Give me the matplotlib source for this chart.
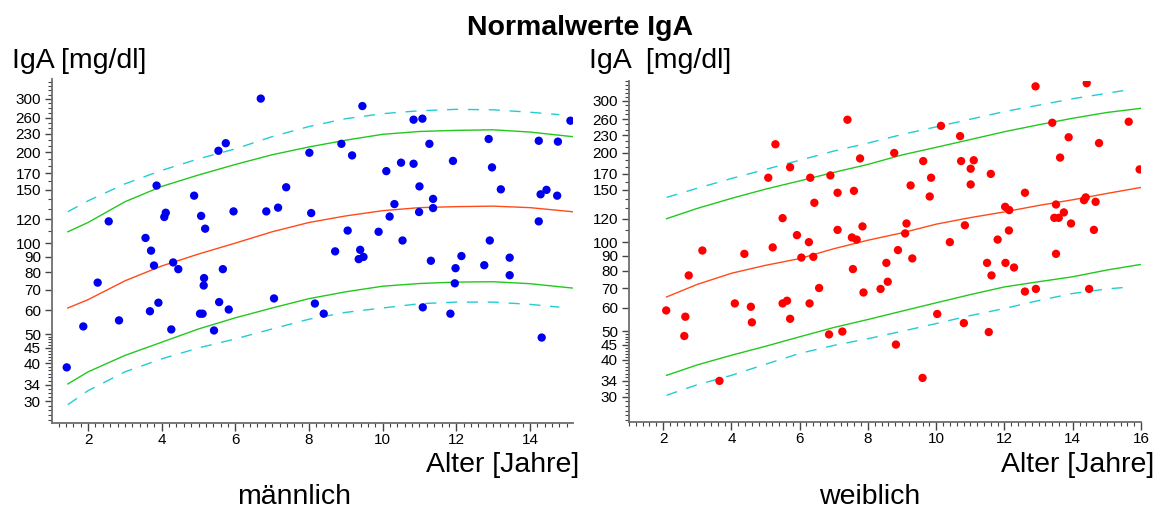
import matplotlib
matplotlib.use("Agg")
import matplotlib.pyplot as plt
from matplotlib.ticker import FixedLocator, NullFormatter, FixedFormatter

plt.rcParams['font.family'] = ['Liberation Sans', 'DejaVu Sans']

# ---------------- data ----------------
title = "Normalwerte IgA"
ylabel = "IgA [mg/dl]"
ylabel_r = "IgA  [mg/dl]"
xlabel = "Alter [Jahre]"
panel_names = ["männlich", "weiblich"]

y_ticks = [30, 34, 40, 45, 50, 60, 70, 80, 90, 100, 120, 150, 170, 200, 230, 260, 300]

# male scatter (age, IgA)
m_age = [1.42, 1.87, 2.26, 2.56, 2.84, 3.56, 3.71, 3.79, 3.68, 3.86, 3.91, 4.11, 4.07, 4.26,
         4.31, 4.45, 4.88, 5.07, 5.18, 5.15, 5.14, 5.04, 5.11, 5.42, 5.54, 5.74, 5.56, 5.66,
         5.82, 5.95, 6.69, 6.84, 7.05, 7.16, 7.38, 8.01, 8.06, 8.16, 8.40, 8.71, 8.88, 9.05,
         9.17, 9.39, 9.35, 9.48, 9.45, 9.89, 10.1, 10.19, 10.32, 10.5, 10.54, 10.84, 10.84,
         11.08, 11.0, 10.99, 11.09, 11.27, 11.37, 11.37, 11.31, 11.84, 11.91, 11.98, 11.96,
         12.14, 12.76, 12.88, 12.91, 12.97, 13.21, 13.45, 13.45, 14.24, 14.24, 14.29, 14.45,
         14.32, 14.74, 14.76, 15.1]
m_iga = [38.8, 53, 74, 118, 55.5, 104, 94.4, 84.3, 59.5, 155, 63.5, 126, 122, 51.8,
         86.3, 82, 143.5, 123, 111.6, 76.6, 72.4, 58.4, 58.4, 51.4, 202, 214, 63.8, 82,
         60.3, 127.3, 300.6, 127.3, 65.6, 131, 153, 199, 125.7, 63.1, 58.4, 93.9, 213, 110,
         195, 95, 88.5, 90, 284, 109, 173, 122.4, 134.6, 184.5, 102, 183, 256,
         258, 154, 126.7, 61.3, 213, 140, 130.6, 87.4, 58.4, 187, 82.6, 73.6,
         90.6, 84.5, 221, 102, 178, 150.6, 89.5, 78.3, 218, 118, 145, 150,
         48.7, 143.5, 216.6, 254]

# female scatter (age, IgA)
f_age = [2.09, 2.65, 2.62, 2.75, 3.15, 3.65, 4.10, 4.38, 4.57, 4.60, 5.08, 5.29, 5.21, 5.50,
         5.50, 5.63, 5.72, 5.72, 5.92, 6.05, 6.27, 6.31, 6.40, 6.43, 6.29, 6.57, 6.90, 6.86,
         7.11, 7.11, 7.25, 7.40, 7.53, 7.67, 7.59, 7.56, 7.77, 7.84, 7.87, 8.37, 8.54, 8.58,
         8.77, 8.88, 8.82, 9.09, 9.13, 9.25, 9.30, 9.62, 9.60, 9.81, 9.85, 10.03, 10.14, 10.40,
         10.70, 10.73, 10.84, 10.81, 11.01, 11.01, 11.10, 11.60, 11.49, 11.62, 11.54, 11.80,
         12.02, 12.14, 12.13, 12.03, 12.28, 12.60, 12.60, 12.91, 12.92, 13.40, 13.51, 13.46,
         13.59, 13.51, 13.63, 13.74, 13.88, 13.95, 14.33, 14.38, 14.41, 14.48, 14.62, 14.67,
         14.77, 15.64, 15.96]
f_iga = [58.8, 56, 48.2, 77.2, 93.7, 34, 62.1, 91.3, 60.5, 53.6, 165, 214, 96, 120.5,
         62.1, 63.4, 179, 55.1, 105.6, 88.7, 100, 165, 89.2, 135.8, 62.1, 70, 168, 48.8,
         146.8, 110, 49.9, 259, 103.7, 102, 149, 81.1, 191.7, 113, 67.6, 69.5, 85.1, 73.5,
         200, 94, 45.1, 107, 115.6, 155.4, 88.1, 187.8, 34.8, 142.6, 165, 57.2, 247, 100,
         228, 187.8, 114, 53.3, 177, 156.6, 189, 170, 85.1, 77.2, 49.7, 102,
         131.6, 128.3, 109.5, 85.1, 82.1, 146.8, 68.1, 335.7, 69.5, 253, 134, 120.8,
         120.8, 91.3, 193, 126, 226, 115.6, 138.6, 141.6, 344, 69.5, 110, 136.8,
         216, 255, 176]

# male percentile curves
m_cx = [1.45, 2, 3, 4, 5, 6, 7, 8, 9, 10, 11, 12, 13, 14, 15.15]
m_p50 = [61, 65, 75, 84, 92, 100, 109, 117, 123, 128, 131, 132, 132.5, 131, 127]
m_hi = [109, 117, 137, 154, 168, 182, 196, 208, 219, 229, 234, 236, 237, 233, 225]
m_lo = [34.2, 37.5, 42.5, 47, 52, 56.6, 61, 65.5, 69, 72, 73.5, 74.3, 74.5, 73.4, 71]
m_dx = [1.45, 2, 3, 4, 5, 6, 7, 8, 9, 10, 11, 12, 13, 14, 14.8]
m_dhi = [127, 138, 157, 174, 190, 205, 225, 243, 258, 268, 274, 277, 276, 271, 266]
m_dlo = [29.2, 32.5, 37.5, 41.4, 45, 48.2, 52, 56, 59, 61, 63, 63.8, 63.8, 62.7, 61.4]

# female percentile curves
f_cx = [2.1, 3, 4, 5, 6, 7, 8, 9, 10, 11, 12, 13, 14, 15, 16]
f_p50 = [65.3, 72, 78.5, 83.5, 88, 95, 101.5, 107.5, 115, 121, 126.5, 133, 139, 146, 153]
f_hi = [120, 130, 140.5, 151, 161, 172, 183, 197, 209, 222, 236, 249, 262, 274, 283]
f_lo = [35.5, 38.5, 41.5, 44.5, 47.9, 51.5, 54.8, 58.5, 62.4, 66.5, 70.6, 73.5, 76.4, 80.5, 84.1]
f_dx = [2.1, 3, 4, 5, 6, 7, 8, 9, 10, 11, 12, 13, 14, 15, 15.7]
f_dhi = [141.6, 152, 164, 176, 189, 203, 216, 231, 245, 260, 276, 290, 305, 318, 328]
f_dlo = [30.4, 33, 35.5, 38.7, 42.1, 44.8, 47.2, 50, 53.1, 56.5, 59.7, 63.5, 67.1, 69.5, 70.6]

# ---------------- figure ----------------
W, H = 1161, 512
fig = plt.figure(figsize=(W / 100, H / 100), dpi=100)

def fx(px):
    return px / W

def fy(py):
    return 1 - py / H

ax_l = fig.add_axes([fx(52), fy(423), fx(573) - fx(52), fy(79) - fy(423)])
ax_r = fig.add_axes([fx(629), fy(422), fx(1141) - fx(629), fy(81) - fy(422)])

minor_y = ([v for v in range(25, 51)] +
           [v for v in range(110, 351, 10)])
minor_y = [v for v in minor_y if v not in y_ticks]

spine_col = "#6e6e6e"
c_med = "#ff4a1a"
c_green = "#22c81e"
c_cyan = "#22cdd2"

def style(ax, xlim, ylim, xmax_tick):
    ax.set_yscale('log')
    ax.set_xlim(*xlim)
    ax.set_ylim(*ylim)
    ax.yaxis.set_major_locator(FixedLocator(y_ticks))
    ax.yaxis.set_major_formatter(FixedFormatter([str(v) for v in y_ticks]))
    ax.yaxis.set_minor_locator(FixedLocator(minor_y))
    ax.yaxis.set_minor_formatter(NullFormatter())
    xt = list(range(2, xmax_tick + 1, 2))
    ax.xaxis.set_major_locator(FixedLocator(xt))
    ax.xaxis.set_major_formatter(FixedFormatter([str(v) for v in xt]))
    mx = [round(1.0 + 0.2 * i, 2) for i in range(0, 80)]
    mx = [v for v in mx if xlim[0] - 1e-6 <= v <= xlim[1] + 1e-6]
    ax.xaxis.set_minor_locator(FixedLocator(mx))
    for s in ['top', 'right']:
        ax.spines[s].set_visible(False)
    for s in ['left', 'bottom']:
        ax.spines[s].set_color(spine_col)
        ax.spines[s].set_linewidth(1.3)
    ax.tick_params(axis='y', which='major', direction='out', length=5, width=1,
                   color='#444444', labelsize=11, pad=3)
    ax.tick_params(axis='y', which='minor', direction='out', length=3, width=0.8,
                   color='#444444')
    ax.tick_params(axis='x', which='major', direction='out', length=6, width=1,
                   color='#444444', labelsize=11, pad=1)
    ax.tick_params(axis='x', which='minor', direction='out', length=3, width=0.8,
                   color='#444444')
    ax.set_facecolor('white')

def curves(ax, cx, p50, hi, lo, dx, dhi, dlo):
    ax.plot(dx, dhi, color=c_cyan, lw=1.0, dashes=(8, 7))
    ax.plot(dx, dlo, color=c_cyan, lw=1.0, dashes=(8, 7))
    ax.plot(cx, hi, color=c_green, lw=1.0)
    ax.plot(cx, lo, color=c_green, lw=1.0)
    ax.plot(cx, p50, color=c_med, lw=1.0)

curves(ax_l, m_cx, m_p50, m_hi, m_lo, m_dx, m_dhi, m_dlo)
ax_l.scatter(m_age, m_iga, s=36, color='#0000ee', edgecolors='none', zorder=3)
style(ax_l, (1.02, 15.17), (25.4, 349), 14)

curves(ax_r, f_cx, f_p50, f_hi, f_lo, f_dx, f_dhi, f_dlo)
ax_r.scatter(f_age, f_iga, s=36, color='#ff0000', edgecolors='none', zorder=3)
style(ax_r, (1.0, 16.0), (24.7, 350), 16)

# texts
fs_big = 20.5
fig.text(fx(580), fy(35), title, ha='center', va='baseline', fontsize=fs_big,
         fontweight='bold')
fig.text(fx(12), fy(68), ylabel, ha='left', va='baseline', fontsize=fs_big)
fig.text(fx(589), fy(68), ylabel_r, ha='left', va='baseline', fontsize=fs_big)
fig.text(fx(579), fy(472), xlabel, ha='right', va='baseline', fontsize=fs_big)
fig.text(fx(1154), fy(472), xlabel, ha='right', va='baseline', fontsize=fs_big)
fig.text(fx(294), fy(504), panel_names[0], ha='center', va='baseline', fontsize=fs_big)
fig.text(fx(870), fy(504), panel_names[1], ha='center', va='baseline', fontsize=fs_big)

fig.savefig("out.png", dpi=100, facecolor='white')
